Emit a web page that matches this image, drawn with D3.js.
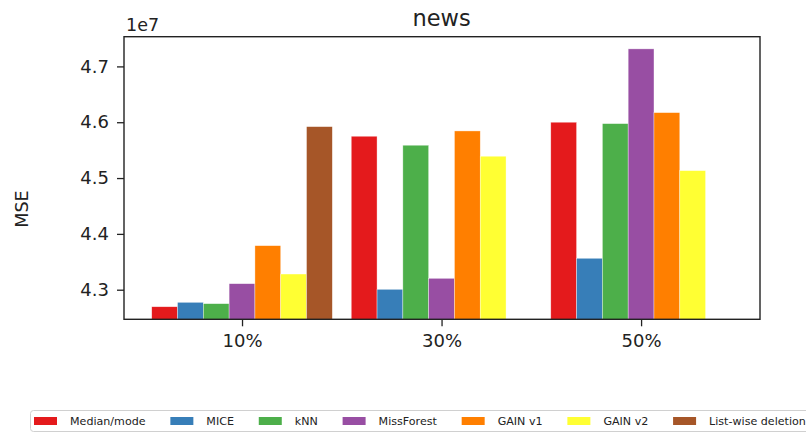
<!DOCTYPE html>
<html>
<head>
<meta charset="utf-8">
<script src="https://cdn.jsdelivr.net/npm/d3@7"></script>
<style>
  html, body { margin: 0; padding: 0; background: #fff; }
  svg { display: block; font-family: "DejaVu Sans", sans-serif; }
</style>
</head>
<body>
<svg id="chart" width="806" height="432"></svg>
<script>
// Missing-rate groups along the x axis
const categories = ["10%", "30%", "50%"];

// Imputation methods (legend order)
const methods = ["Median/mode", "MICE", "kNN", "MissForest", "GAIN v1", "GAIN v2", "List-wise deletion"];

// MSE per method, one value per missing-rate group (null = not available)
const medianMode = [4.2695e7, 4.5749e7, 4.6000e7];
const mice       = [4.2774e7, 4.3007e7, 4.3563e7];
const knn        = [4.2750e7, 4.5588e7, 4.5975e7];
const missForest = [4.3108e7, 4.3204e7, 4.7314e7];
const gainV1     = [4.3789e7, 4.5844e7, 4.6172e7];
const gainV2     = [4.3281e7, 4.5391e7, 4.5133e7];
const listwise   = [4.5921e7, null, null];

const seriesValues = [medianMode, mice, knn, missForest, gainV1, gainV2, listwise];

// Y ticks (axis uses a 1e7 offset)
const yTicks = [4.3e7, 4.4e7, 4.5e7, 4.6e7, 4.7e7];

// Set1 palette
const colors = ["#e41a1c", "#377eb8", "#4daf4a", "#984ea3", "#ff7f00", "#ffff33", "#a65628"];

const svg = d3.select("#chart");
const plot = { left: 124, top: 36.7, right: 760, bottom: 319.3 };
const textColor = "#222";

const x = d3.scaleLinear().domain([-0.5915, 2.596]).range([plot.left, plot.right]);
const y = d3.scaleLinear().domain([4.2470e7, 4.7532e7]).range([plot.bottom, plot.top]);
const barW = 0.1293; // bar width in group units

svg.append("defs").append("clipPath").attr("id", "plotClip")
  .append("rect")
  .attr("x", plot.left).attr("y", plot.top)
  .attr("width", plot.right - plot.left).attr("height", plot.bottom - plot.top);

// Bars
const barsG = svg.append("g").attr("clip-path", "url(#plotClip)");
methods.forEach((m, j) => {
  const data = seriesValues[j].map((v, i) => ({ i, v })).filter(d => d.v != null);
  barsG.selectAll(null).data(data).enter().append("rect")
    .attr("x", d => x(d.i + (j - 3.5) * barW))
    .attr("width", d => x(d.i + (j - 2.5) * barW) - x(d.i + (j - 3.5) * barW))
    .attr("y", d => y(d.v))
    .attr("height", d => plot.bottom + 5 - y(d.v))
    .attr("fill", colors[j])
    .attr("stroke", "#fff")
    .attr("stroke-opacity", 0.6)
    .attr("stroke-width", 0.6);
});

// Y axis
const yAxis = d3.axisLeft(y).tickValues(yTicks).tickSize(7).tickPadding(8)
  .tickFormat(d => (d / 1e7).toFixed(1));
const yG = svg.append("g").attr("transform", `translate(${plot.left},0)`).call(yAxis);
yG.select(".domain").remove();
yG.selectAll("line").attr("stroke", textColor).attr("stroke-width", 1.3);
yG.selectAll("text").attr("fill", textColor).attr("font-size", 18)
  .attr("font-family", "DejaVu Sans");

// X axis
const xAxis = d3.axisBottom(x).tickValues(categories.map((c, i) => i)).tickSize(7).tickPadding(8)
  .tickFormat(i => categories[i]);
const xG = svg.append("g").attr("transform", `translate(0,${plot.bottom})`).call(xAxis);
xG.select(".domain").remove();
xG.selectAll("line").attr("stroke", textColor).attr("stroke-width", 1.3);
xG.selectAll("text").attr("fill", textColor).attr("font-size", 18)
  .attr("font-family", "DejaVu Sans");

// Frame
svg.append("rect")
  .attr("x", plot.left).attr("y", plot.top)
  .attr("width", plot.right - plot.left).attr("height", plot.bottom - plot.top)
  .attr("fill", "none").attr("stroke", textColor).attr("stroke-width", 1.4);

// Offset label
svg.append("text").attr("x", 126).attr("y", 30.5)
  .attr("font-size", 17.5).attr("fill", textColor).text("1e7");

// Title
svg.append("text").attr("x", 441.5).attr("y", 26).attr("text-anchor", "middle")
  .attr("font-size", 22.5).attr("fill", textColor).text("news");

// Y label
svg.append("text").attr("transform", "translate(28,209) rotate(-90)")
  .attr("text-anchor", "middle").attr("font-size", 17.5).attr("fill", textColor).text("MSE");

// Legend
const legend = svg.append("g");
legend.append("rect").attr("x", 30.5).attr("y", 410.5).attr("width", 800).attr("height", 21)
  .attr("rx", 3).attr("fill", "#fff").attr("stroke", "#d0d0d0").attr("stroke-width", 1);
let lx = 34;
methods.forEach((m, j) => {
  legend.append("rect").attr("x", lx).attr("y", 417).attr("width", 23).attr("height", 8)
    .attr("fill", colors[j]);
  const t = legend.append("text").attr("x", lx + 36).attr("y", 425)
    .attr("font-size", 11.1).attr("fill", textColor).text(m);
  lx = lx + 36 + t.node().getComputedTextLength() + 24.8;
});
</script>
</body>
</html>
